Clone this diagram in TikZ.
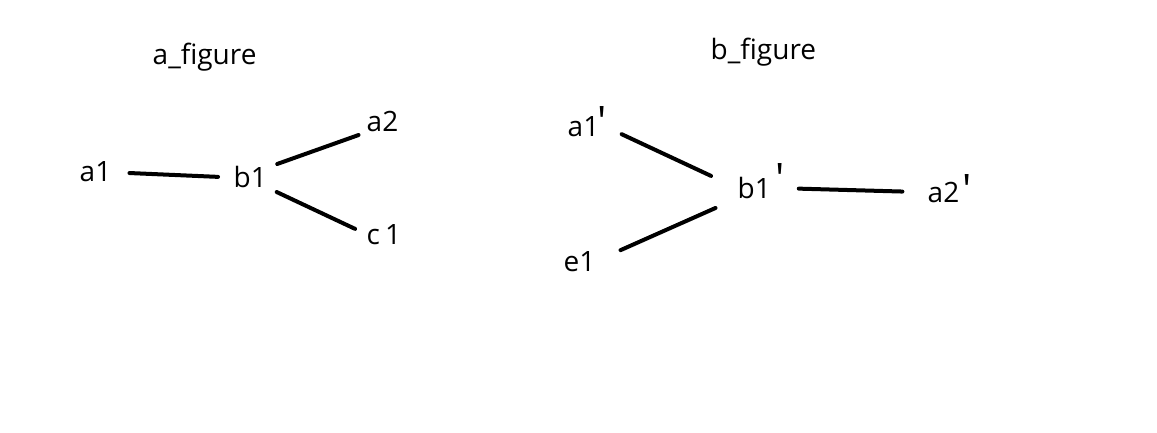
\documentclass[tikz,border=0pt]{standalone}
\usepackage{fontspec}
\newfontfamily\labelfont[Ligatures=NoCommon]{Open Sans}
\tikzset{
  lbl/.style={inner sep=0pt, anchor=base west, text height=19.5pt, text depth=0pt,
    font=\labelfont\fontsize{28}{33}\selectfont},
  edge/.style={line width=4pt, line cap=round, black}
}
\newcommand{\prm}[1]{\raisebox{#1}{\fontsize{42}{42}\selectfont'}}
\begin{document}
\begin{tikzpicture}[x=1pt,y=-1pt]
\useasboundingbox (0,0) rectangle (1157,433);
% titles
\node[lbl] (ta) at (152.5,65) {a\_figure};
\node[lbl] (tb) at (710.5,60) {b\_figure};
% left graph
\node[lbl] (a1) at (79.5,182) {a1};
\node[lbl] (b1) at (233.5,187.3) {b1};
\node[lbl] (a2) at (366.5,132) {a2};
\node[lbl] (c1) at (366.5,244) {c\kern5pt1};
\draw[edge, shorten <=18pt, shorten >=15.5pt] (a1.east) -- (b1.west);
\draw[edge, shorten <=10.7pt, shorten >=8.5pt] (b1.north east) -- (a2.south west);
\draw[edge, shorten <=10.6pt, shorten >=12.6pt] (b1.south east) -- (c1.west);
% right graph
\node[lbl] (a1p) at (567.5,137) {a1\kern-2pt\prm{0pt}};
\node[lbl] (b1p) at (737.5,198) {b1\kern4.5pt\prm{5pt}};
\node[lbl] (a2p) at (927.5,202) {a2\kern3pt\prm{-2pt}};
\node[lbl] (e1) at (563.5,271) {e1};
\draw[edge, shorten <=16.4pt, shorten >=29.2pt] (a1p.east) -- (b1p.west);
\draw[edge, shorten <=27.3pt, shorten >=24.1pt] (e1.east) -- (b1p.south west);
\draw[edge, shorten <=13.9pt, shorten >=25.1pt] (b1p.east) -- (a2p.west);
\end{tikzpicture}
\end{document}
